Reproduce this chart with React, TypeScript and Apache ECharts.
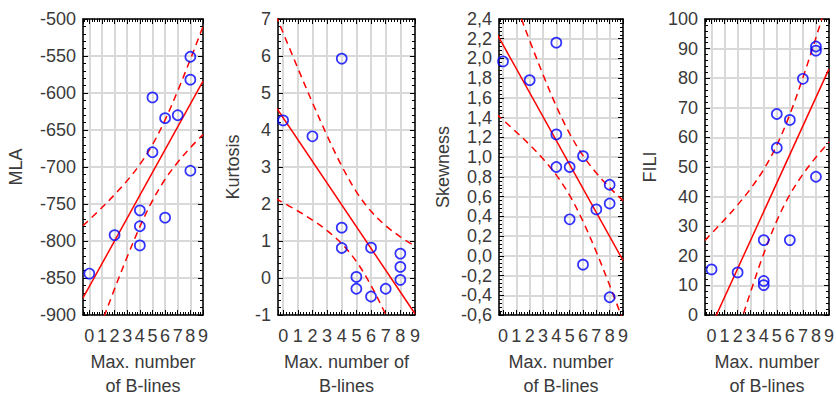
import React, { useEffect, useRef } from "react";
import * as echarts from "echarts";

// ---------- data ----------
const xTickLabels = [0, 1, 2, 3, 4, 5, 6, 7, 8, 9];
const maxBLines = [0, 2, 4, 4, 4, 5, 5, 6, 6, 7, 8, 8, 8];

const mlaValues = [-844, -792, -758.6, -780, -806, -606, -680, -634, -768.5, -630, -551, -582, -705];
const kurtosisValues = [4.26, 3.83, 5.93, 1.36, 0.81, 0.03, -0.29, 0.82, -0.5, -0.29, 0.66, 0.3, -0.05];
const skewnessValues = [1.97, 1.78, 2.16, 1.23, 0.9, 0.9, 0.37, 1.01, -0.09, 0.47, 0.72, 0.53, -0.42];
const filiValues = [15.4, 14.4, 25.3, 11.5, 10.1, 67.9, 56.5, 65.9, 25.3, 79.8, 90.7, 89.3, 46.7];

// regression line end points (x = -0.5 and x = 9)
const fitX = [-0.5, 9];
const mlaFit = [-877, -584];
const kurtosisFit = [4.625, -0.966];
const skewnessFit = [2.26, -0.047];
const filiFit = [-8.43, 83.13];

// confidence band points
const bandX = [-0.5, 1, 2, 3, 4, 5, 6, 7, 8, 9];
const mlaUpper = [-779.4, -754.8, -737.3, -718.4, -696.6, -669.8, -636.4, -597.1, -554.5, -510.0];
const mlaLower = [-978.4, -909.6, -864.7, -821.4, -780.8, -745.4, -716.6, -693.5, -673.9, -656.2];
const kurtosisUpper = [7.105, 5.673, 4.742, 3.85, 3.027, 2.33, 1.801, 1.414, 1.112, 0.857];
const kurtosisLower = [2.145, 1.811, 1.566, 1.282, 0.927, 0.446, -0.201, -0.99, -1.866, -2.789];
const skewnessUpper = [3.085, 2.538, 2.181, 1.837, 1.516, 1.238, 1.015, 0.839, 0.691, 0.559];
const skewnessLower = [1.436, 1.254, 1.125, 0.983, 0.818, 0.612, 0.349, 0.039, -0.299, -0.653];
const filiUpper = [25.21, 32.22, 37.2, 42.71, 49.18, 57.36, 67.79, 80.16, 93.69, 107.85];
const filiLower = [-42.07, -20.16, -5.88, 7.89, 20.7, 31.8, 40.65, 47.54, 53.29, 58.41];

// ---------- layout / style ----------
const FONT = "'Liberation Sans', Arial, Helvetica, sans-serif";
const TEXT = "#3a3a3a";
const GRID_COLOR = "#d9d9d9";
const FS = 18;

type Panel = {
  yName: string;
  xName: string;
  values: number[];
  fit: number[];
  upper: number[];
  lower: number[];
  yMin: number;
  yMax: number;
  yStep: number;
  decimals: number;
  xMin: number;
  left: number;
  width: number;
  yNameGap: number;
};

const panels: Panel[] = [
  { yName: "MLA", xName: "Max. number\nof B-lines", values: mlaValues, fit: mlaFit, upper: mlaUpper, lower: mlaLower, yMin: -900, yMax: -500, yStep: 50, decimals: 0, xMin: -0.5, left: 83, width: 120, yNameGap: 58 },
  { yName: "Kurtosis", xName: "Max. number of\nB-lines", values: kurtosisValues, fit: kurtosisFit, upper: kurtosisUpper, lower: kurtosisLower, yMin: -1, yMax: 7, yStep: 1, decimals: 0, xMin: -0.35, left: 278, width: 137, yNameGap: 36 },
  { yName: "Skewness", xName: "Max. number\nof B-lines", values: skewnessValues, fit: skewnessFit, upper: skewnessUpper, lower: skewnessLower, yMin: -0.6, yMax: 2.4, yStep: 0.2, decimals: 1, xMin: -0.3, left: 499, width: 124, yNameGap: 47 },
  { yName: "FILI", xName: "Max. number\nof B-lines", values: filiValues, fit: filiFit, upper: filiUpper, lower: filiLower, yMin: 0, yMax: 100, yStep: 10, decimals: 0, xMin: -0.5, left: 705, width: 124, yNameGap: 46 },
];

const TOP = 19;
const HEIGHT = 296;

function fmtY(v: number, decimals: number): string {
  if (Math.abs(v) < 1e-9) v = 0;
  return v.toFixed(decimals).replace(".", ",");
}

function buildOption() {
  const grid: any[] = [];
  const xAxis: any[] = [];
  const yAxis: any[] = [];
  const series: any[] = [];

  const frameLine = { show: true, onZero: false, lineStyle: { color: "#000", width: 1.5 } };
  const tick = { show: true, inside: true, length: 5, lineStyle: { color: "#000", width: 1 } };
  const minor = { show: true, splitNumber: 5, length: 3, lineStyle: { color: "#000", width: 1 } };

  panels.forEach((p, i) => {
    grid.push({
      left: p.left,
      top: TOP,
      width: p.width,
      height: HEIGHT,
      containLabel: false,
      outerBoundsMode: "none",
      show: false,
    });

    const xCommon = { type: "value", gridIndex: i, min: p.xMin, max: 9, splitNumber: 10 };
    xAxis.push({
      ...xCommon,
      position: "bottom",
      axisLine: frameLine,
      axisTick: tick,
      minorTick: minor,
      splitLine: { show: true, lineStyle: { color: GRID_COLOR, width: 2 } },
      axisLabel: {
        formatter: (v: number) => (xTickLabels.includes(v) ? String(v) : ""),
        fontSize: FS,
        color: TEXT,
        fontFamily: FONT,
        margin: 12,
      },
      name: p.xName,
      nameLocation: "middle",
      nameGap: 34,
      nameTextStyle: { fontSize: FS, color: TEXT, fontFamily: FONT, lineHeight: 24 },
    });
    xAxis.push({
      ...xCommon,
      position: "top",
      axisLine: frameLine,
      axisTick: tick,
      minorTick: minor,
      splitLine: { show: false },
      axisLabel: { show: false },
    });

    const yCommon = { type: "value", gridIndex: i, min: p.yMin, max: p.yMax, interval: p.yStep };
    yAxis.push({
      ...yCommon,
      position: "left",
      axisLine: frameLine,
      axisTick: tick,
      minorTick: minor,
      splitLine: { show: true, lineStyle: { color: GRID_COLOR, width: 2 } },
      axisLabel: {
        formatter: (v: number) => fmtY(v, p.decimals),
        fontSize: FS,
        color: TEXT,
        fontFamily: FONT,
        margin: 7,
      },
      name: p.yName,
      nameLocation: "middle",
      nameGap: p.yNameGap,
      nameTextStyle: { fontSize: FS, color: TEXT, fontFamily: FONT },
    });
    yAxis.push({
      ...yCommon,
      position: "right",
      axisLine: frameLine,
      axisTick: tick,
      minorTick: minor,
      splitLine: { show: false },
      axisLabel: { show: false },
    });

    const xi = i * 2;
    const yi = i * 2;
    series.push({
      type: "line",
      xAxisIndex: xi,
      yAxisIndex: yi,
      data: fitX.map((x, k) => [x, p.fit[k]]),
      symbol: "none",
      lineStyle: { color: "#ff0000", width: 1.5 },
      clip: true,
      z: 3,
    });
    [p.upper, p.lower].forEach((band) => {
      series.push({
        type: "line",
        xAxisIndex: xi,
        yAxisIndex: yi,
        data: bandX.map((x, k) => [x, band[k]]),
        symbol: "none",
        smooth: 0.35,
        lineStyle: { color: "#ff0000", width: 1.5, type: [7, 5] },
        clip: true,
        z: 3,
      });
    });
    series.push({
      type: "scatter",
      xAxisIndex: xi,
      yAxisIndex: yi,
      data: maxBLines.map((x, k) => [x, p.values[k]]),
      symbol: "circle",
      symbolSize: 10,
      itemStyle: { color: "rgba(255,255,255,0)", borderColor: "#0000ff", borderWidth: 1.7 },
      clip: false,
      z: 4,
    });
  });

  return {
    animation: false,
    backgroundColor: "#ffffff",
    textStyle: { fontFamily: FONT },
    grid,
    xAxis,
    yAxis,
    series,
  };
}

export default function App() {
  const ref = useRef<HTMLDivElement>(null);
  useEffect(() => {
    const chart = echarts.init(ref.current!, null, { renderer: "svg" });
    chart.setOption(buildOption() as any);
    return () => chart.dispose();
  }, []);
  return (
    <div
      ref={ref}
      style={{ position: "fixed", left: 0, top: 0, width: 836, height: 395, background: "#fff" }}
    />
  );
}
